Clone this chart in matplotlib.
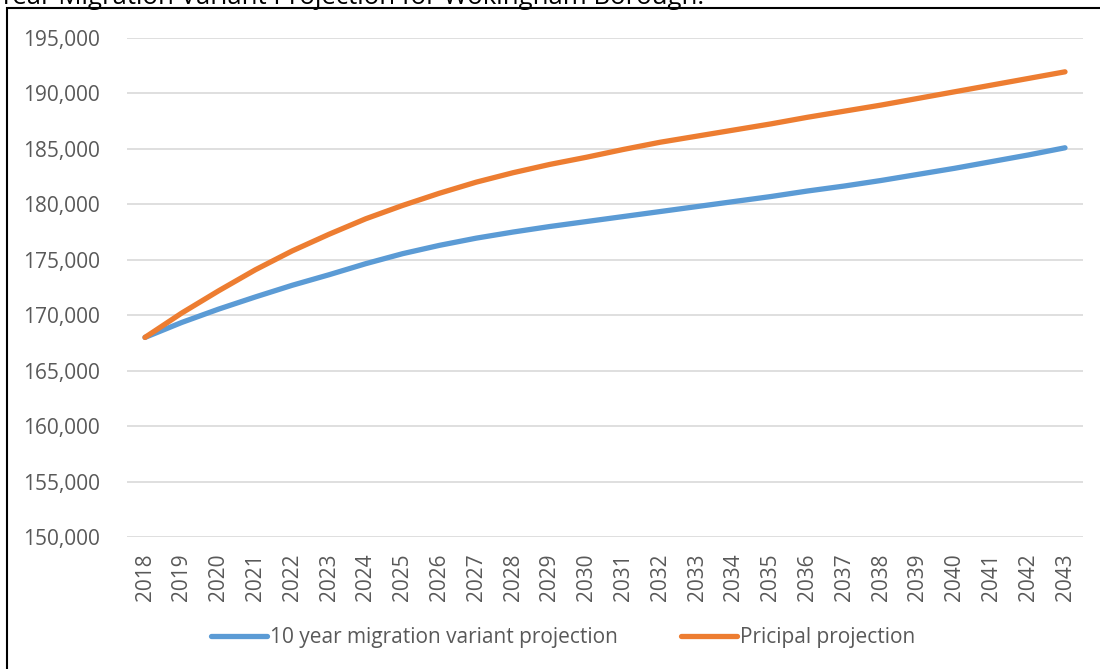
"""Population projection chart: principal vs 10 year migration variant."""

import matplotlib
matplotlib.use("Agg")
import matplotlib.pyplot as plt
from matplotlib.patches import Rectangle
from matplotlib.ticker import FuncFormatter

years = list(range(2018, 2044))

variant_10yr = [
    168000, 169350, 170550, 171650, 172700, 173650, 174650, 175550, 176300,
    176950, 177500, 178000, 178450, 178900, 179350, 179800, 180250, 180700,
    181200, 181650, 182150, 182700, 183250, 183850, 184450, 185100,
]

principal = [
    168000, 170200, 172200, 174100, 175800, 177300, 178700, 179900, 181000,
    182000, 182850, 183600, 184250, 184950, 185600, 186150, 186700, 187250,
    187850, 188400, 188950, 189550, 190150, 190750, 191350, 191950,
]

series_labels = ["10 year migration variant projection", "Pricipal projection"]
title = "Year Migration Variant Projection for Wokingham Borough."

plt.rcParams["font.family"] = ["Open Sans", "DejaVu Sans"]
TEXT_GREY = "#595959"
FS = 15

W, H = 1100, 669
fig = plt.figure(figsize=(W / 100, H / 100), dpi=100)

# plot area in pixel terms, converted to figure fractions
left, right, top, bottom = 126.6, 1083.4, 38, 537
ax = fig.add_axes([left / W, 1 - bottom / H, (right - left) / W, (bottom - top) / H])

x = list(range(len(years)))
ax.plot(x, variant_10yr, color="#5B9BD5", lw=3.8, solid_capstyle="round",
        solid_joinstyle="round", label=series_labels[0], zorder=3)
ax.plot(x, principal, color="#ED7D31", lw=3.8, solid_capstyle="round",
        solid_joinstyle="round", label=series_labels[1], zorder=3)

ax.set_xlim(-0.5, len(years) - 0.5)
ax.set_ylim(150000, 195000)
ax.set_yticks(range(150000, 195001, 5000))
ax.yaxis.set_major_formatter(FuncFormatter(lambda v, p: f"{int(v):,}"))
ax.set_xticks(x)
ax.set_xticklabels([str(y) for y in years], rotation=90)

ax.grid(axis="y", color="#D9D9D9", lw=1.2)
ax.set_axisbelow(True)
for s in ax.spines.values():
    s.set_visible(False)
ax.tick_params(axis="both", length=0, labelsize=FS, labelcolor=TEXT_GREY)
ax.tick_params(axis="y", pad=19)
ax.tick_params(axis="x", pad=12)

leg = ax.legend(loc="center", bbox_to_anchor=(563 / W, 1 - 638 / H), bbox_transform=fig.transFigure,
                ncol=2, frameon=False, fontsize=FS, handlelength=2.7, handletextpad=0.15,
                columnspacing=3.0)
for t in leg.get_texts():
    t.set_color(TEXT_GREY)

# chart border (right and bottom edges fall outside the image)
fig.add_artist(Rectangle((7 / W, -0.1), 1.2, 1 - 8 / H + 0.1, transform=fig.transFigure,
                         fill=False, edgecolor="black", lw=1.5))

# heading sits partly above the top edge
fig.text(-2 / W, 1 - 4 / H, title, fontsize=18.5, va="baseline", ha="left", color="black")

fig.savefig("out.png", dpi=100)
